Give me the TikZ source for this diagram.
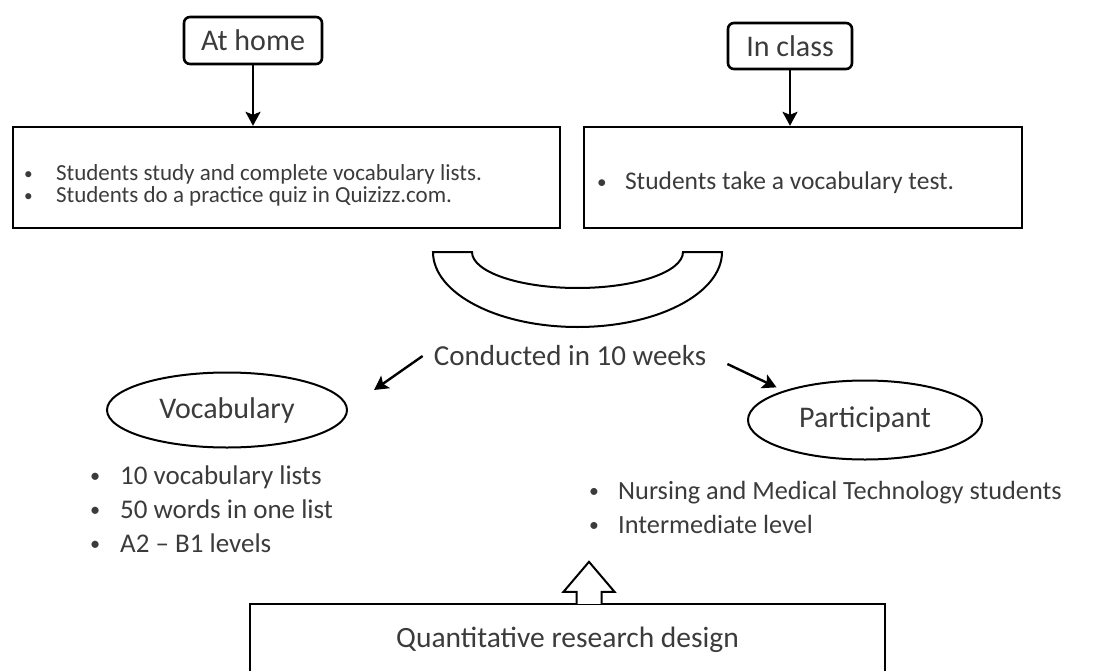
\documentclass[tikz,border=0pt]{standalone}
\usepackage{fontspec}
\usepackage{graphicx}
\setmainfont{Carlito}
\usetikzlibrary{positioning,arrows.meta,calc,shapes.geometric}
\definecolor{figtext}{HTML}{3B3B3B}
\tikzset{
  figbox/.style={draw, line width=2.4pt},
  figtag/.style={draw, rounded corners=6pt, line width=2.6pt, text=figtext,
    font=\fontsize{30}{32}\selectfont},
  figoval/.style={draw, ellipse, line width=2pt, inner sep=0pt, text=figtext,
    font=\fontsize{30}{32}\selectfont},
  figarrow/.style={-{Stealth[length=14pt,width=15pt,inset=3pt]}, line width=2.4pt},
  figlist/.style={align=left, text=figtext, inner sep=0pt, anchor=west},
}
\newcommand{\figitem}[1][30]{\makebox[#1pt][l]{\raisebox{0.05em}{\scalebox{0.75}{\textbullet}}}}

\begin{document}
\begin{tikzpicture}[x=1pt, y=-1pt]
  \useasboundingbox (0,0) rectangle (1115,671);
  \clip (0,0) rectangle (1115,671);
  \node[figtag, minimum width=138pt, minimum height=47pt] (home) at (253,40.5) {At home};
  \node[figtag, minimum width=124pt, minimum height=46pt] (class) at (790,46) {In class};
  \node[figbox, minimum width=547pt, minimum height=101pt] (homejob) at (286.5,177.5) {};
  \node[figbox, minimum width=438pt, minimum height=101pt] (classjob) at (803,177.5) {};
  \node[figlist, font=\fontsize{23}{22}\selectfont] (homelist) at ([xshift=12pt,yshift=-8pt]homejob.west)
    {\figitem[32]Students study and complete vocabulary lists.\\
     \figitem[32]Students do a practice quiz in Quizizz.com.};
  \node[figlist, font=\fontsize{25.5}{26}\selectfont] (classlist) at ([xshift=14pt,yshift=-5pt]classjob.west)
    {\figitem[28]Students take a vocabulary test.};
  \draw[figarrow] (home) -- (homejob.north -| home);
  \draw[figarrow] (class) -- (classjob.north -| class);
  % curved band under the two boxes
  \draw[line width=2pt] (433,252) arc[start angle=180, end angle=0, x radius=144.5, y radius=75]
    -- (683,252) arc[start angle=0, end angle=180, x radius=105.5, y radius=36] -- cycle;
  \node[text=figtext, inner sep=0pt, font=\fontsize{29}{30}\selectfont] (weeks) at (570,356) {Conducted in 10 weeks};
  \node[figoval, minimum width=240pt, minimum height=75pt] (voc) at (227,410) {Vocabulary};
  \node[figoval, minimum width=234pt, minimum height=79pt] (part) at (865,420) {Participant};
  \draw[figarrow] ($(weeks.west)+(-11,0)$) -- ($(voc.east)+(26,-20)$);
  \draw[figarrow] ($(weeks.east)+(21,8)$) -- ($(part.north west)+(-5,-4)$);
  \node[figlist, font=\fontsize{27}{34}\selectfont] (voclist) at (90,509)
    {\figitem 10 vocabulary lists\\ \figitem 50 words in one list\\ \figitem A2 – B1 levels};
  \node[figlist, font=\fontsize{26.3}{34}\selectfont] (partlist) at (589,507)
    {\figitem[29]Nursing and Medical Technology students\\ \figitem[29]Intermediate level};
  \node[draw, line width=2.4pt, minimum width=635pt, minimum height=72pt, text=figtext,
    font=\fontsize{29.5}{30}\selectfont] (design) at (567.5,640) {Quantitative research design};
  \coordinate (designtip) at ($(design.north)+(21.5,0)$);
  \filldraw[fill=white, line width=2pt] ($(designtip)+(-12.5,1)$) -- ++(0,-12) -- ++(-13,0)
    -- ++(25.5,-30) -- ++(25.5,30) -- ++(-13,0) -- ++(0,12);
\end{tikzpicture}
\end{document}
